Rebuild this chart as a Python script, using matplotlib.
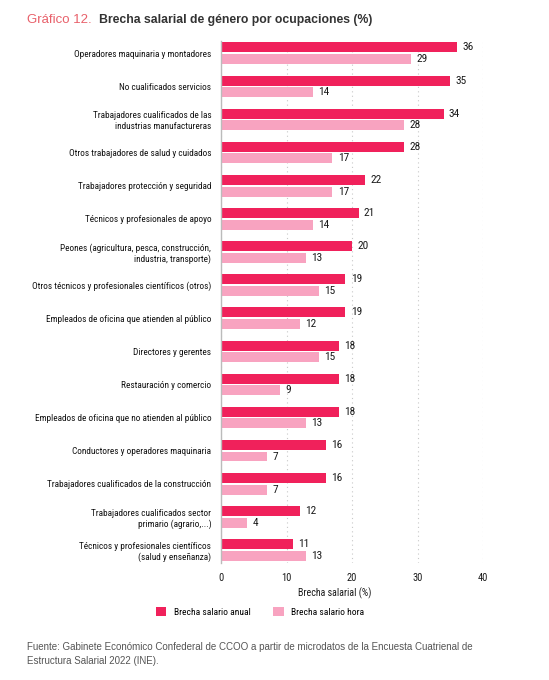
import matplotlib
matplotlib.use("Agg")
import matplotlib.pyplot as plt
import numpy as np

# fuente estrecha para etiquetas (con alternativas)
COND = ['Roboto Condensed', 'Liberation Sans Narrow', 'DejaVu Sans Condensed', 'DejaVu Sans']
plt.rcParams['font.family'] = ['Liberation Sans', 'DejaVu Sans']

categorias = [
    "Operadores maquinaria y montadores",
    "No cualificados servicios",
    "Trabajadores cualificados de las\nindustrias manufactureras",
    "Otros trabajadores de salud y cuidados",
    "Trabajadores protección y seguridad",
    "Técnicos y profesionales de apoyo",
    "Peones (agricultura, pesca, construcción,\nindustria, transporte)",
    "Otros técnicos y profesionales científicos (otros)",
    "Empleados de oficina que atienden al público",
    "Directores y gerentes",
    "Restauración y comercio",
    "Empleados de oficina que no atienden al público",
    "Conductores y operadores maquinaria",
    "Trabajadores cualificados de la construcción",
    "Trabajadores cualificados sector\nprimario (agrario,...)",
    "Técnicos y profesionales científicos\n(salud y enseñanza)",
]
anual = [36, 35, 34, 28, 22, 21, 20, 19, 19, 18, 18, 18, 16, 16, 12, 11]
hora = [29, 14, 28, 17, 17, 14, 13, 15, 12, 15, 9, 13, 7, 7, 4, 13]

c_anual = '#F0215B'
c_hora = '#F8A3C0'

fig = plt.figure(figsize=(5.49, 6.80), dpi=100)
ax = fig.add_axes([221/549, 1 - 563/680, 262/549, 522/680])

y = np.arange(len(categorias))
h = 0.30
off = 0.175
b1 = ax.barh(y - off, anual, height=h, color=c_anual, label='Brecha salario anual')
b2 = ax.barh(y + off, hora, height=h, color=c_hora, label='Brecha salario hora')

for rect, v in zip(b1, anual):
    ax.text(rect.get_width() + 0.8, rect.get_y() + rect.get_height() / 2, str(v),
            va='center', ha='left', fontsize=8.2, family=COND, color='#1a1a1a')
for rect, v in zip(b2, hora):
    ax.text(rect.get_width() + 0.8, rect.get_y() + rect.get_height() / 2, str(v),
            va='center', ha='left', fontsize=8.2, family=COND, color='#1a1a1a')

ax.set_xlim(0, 40)
ax.set_ylim(len(categorias) - 1 + 0.39, -0.37)
ax.set_xticks([0, 10, 20, 30, 40])
ax.set_yticks(y)
ax.set_yticklabels(categorias, family=COND, fontsize=6.7, color='#111111')
for lab in ax.get_xticklabels():
    lab.set_family(COND)
    lab.set_fontsize(7.5)
    lab.set_color('#1a1a1a')
ax.tick_params(axis='both', length=0)
ax.tick_params(axis='y', pad=7)
ax.tick_params(axis='x', pad=7)

ax.grid(axis='x', linestyle=(0, (1, 3)), color='#C8C8C8', linewidth=0.8)
ax.set_axisbelow(True)
for s in ['top', 'right', 'bottom']:
    ax.spines[s].set_visible(False)
ax.spines['left'].set_color('#BBBBBB')
ax.spines['left'].set_linewidth(1)

ax.set_xlabel('Brecha salarial (%)', family=COND, fontsize=7.2, color='#1a1a1a')
ax.xaxis.set_label_coords(0.435, -0.046)

fig.legend(handles=[b1, b2], loc='center', bbox_to_anchor=(0.474, 1 - 612/680), ncol=2,
           frameon=False, prop={'family': COND, 'size': 6.8}, handlelength=1.1,
           handleheight=1.1, columnspacing=2.4, handletextpad=0.8)

# titulo
t1 = fig.text(27/549, 1 - 20/680, 'Gráfico 12.', color='#E8606A', fontsize=9.5, va='center')
ax.annotate('Brecha salarial de género por ocupaciones (%)', xy=(1, 0.5), xycoords=t1,
            xytext=(5, 0), textcoords='offset points', va='center', ha='left',
            fontsize=8.8, fontweight='bold', color='#333333')

fig.text(27/549, 1 - 654/680,
         'Fuente: Gabinete Económico Confederal de CCOO a partir de microdatos de la Encuesta Cuatrienal de\n'
         'Estructura Salarial 2022 (INE).',
         color='#555555', fontsize=7.05, va='center', linespacing=1.55)

fig.savefig('out.png', dpi=100)
